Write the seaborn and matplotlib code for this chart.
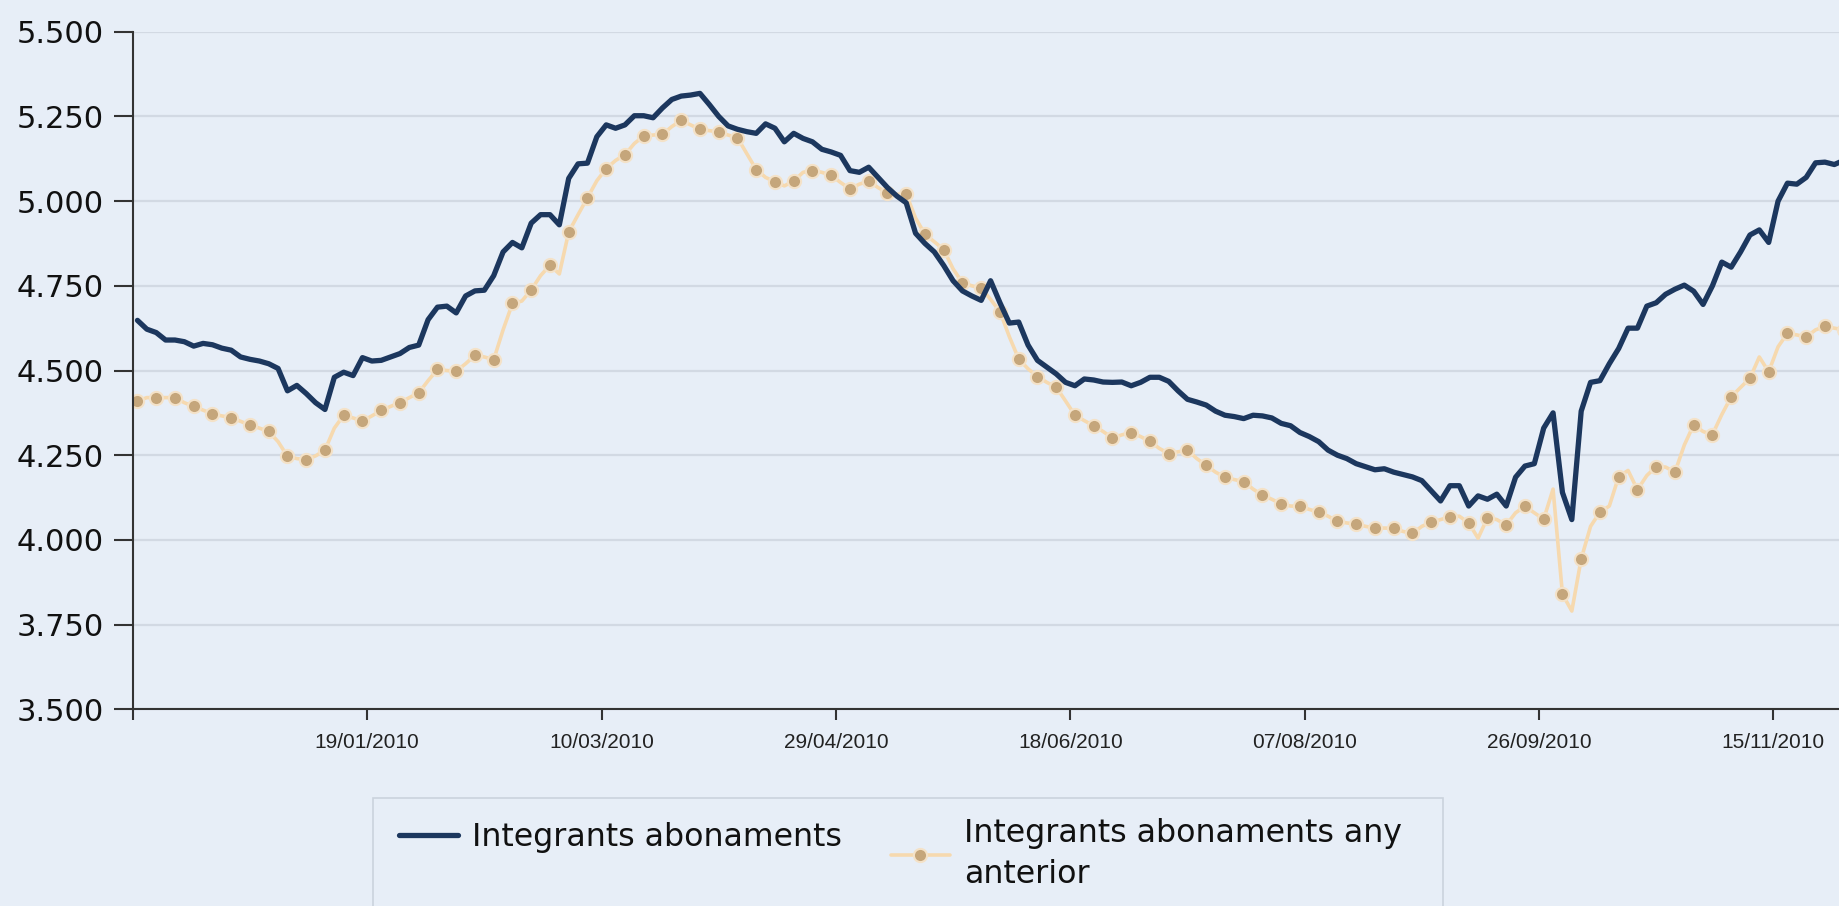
import numpy as np
import pandas as pd
import matplotlib
matplotlib.use('Agg')
import matplotlib.pyplot as plt
from matplotlib.patches import Rectangle
import seaborn as sns

# values read every 2 days, starting 01/12/2009 (in thousands)
abonaments = [
    4.648, 4.622, 4.612, 4.590, 4.590, 4.585, 4.572, 4.580, 4.576, 4.566,
    4.560, 4.540, 4.533, 4.528, 4.520, 4.506, 4.440, 4.456, 4.432, 4.405,
    4.385, 4.480, 4.495, 4.485, 4.538, 4.528, 4.530, 4.540, 4.550, 4.568,
    4.575, 4.650, 4.687, 4.690, 4.670, 4.720, 4.735, 4.737, 4.780, 4.850,
    4.878, 4.862, 4.935, 4.960, 4.960, 4.930, 5.067, 5.110, 5.112, 5.190,
    5.225, 5.215, 5.225, 5.252, 5.252, 5.246, 5.275, 5.300, 5.310, 5.313,
    5.318, 5.285, 5.250, 5.222, 5.212, 5.205, 5.200, 5.228, 5.215, 5.175,
    5.200, 5.185, 5.175, 5.153, 5.145, 5.135, 5.090, 5.085, 5.100, 5.070,
    5.040, 5.015, 4.995, 4.905, 4.875, 4.850, 4.810, 4.765, 4.735, 4.720,
    4.707, 4.765, 4.700, 4.640, 4.643, 4.575, 4.530, 4.510, 4.490, 4.465,
    4.455, 4.475, 4.472, 4.466, 4.465, 4.466, 4.455, 4.465, 4.480, 4.480,
    4.468, 4.440, 4.415, 4.407, 4.398, 4.380, 4.368, 4.364, 4.358, 4.368,
    4.366, 4.360, 4.344, 4.337, 4.317, 4.305, 4.290, 4.265, 4.250, 4.240,
    4.225, 4.216, 4.207, 4.210, 4.200, 4.193, 4.186, 4.175, 4.145, 4.115,
    4.160, 4.160, 4.100, 4.130, 4.120, 4.135, 4.100, 4.185, 4.218, 4.225,
    4.330, 4.375, 4.140, 4.060, 4.380, 4.465, 4.470, 4.520, 4.565, 4.625,
    4.625, 4.690, 4.700, 4.725, 4.740, 4.752, 4.734, 4.695, 4.750, 4.820,
    4.805, 4.850, 4.900, 4.915, 4.878, 5.000, 5.053, 5.050, 5.070, 5.113,
    5.115, 5.108, 5.120,
]

abonaments_anterior = [
    4.410, 4.420, 4.420, 4.420, 4.420, 4.405, 4.394, 4.383, 4.372, 4.366,
    4.361, 4.350, 4.339, 4.330, 4.320, 4.290, 4.247, 4.240, 4.237, 4.248,
    4.265, 4.330, 4.368, 4.360, 4.351, 4.366, 4.382, 4.394, 4.405, 4.420,
    4.434, 4.470, 4.503, 4.500, 4.498, 4.520, 4.545, 4.540, 4.532, 4.620,
    4.698, 4.705, 4.738, 4.780, 4.811, 4.785, 4.909, 4.960, 5.010, 5.060,
    5.096, 5.120, 5.137, 5.170, 5.192, 5.195, 5.197, 5.220, 5.238, 5.225,
    5.212, 5.208, 5.204, 5.195, 5.187, 5.140, 5.093, 5.070, 5.057, 5.045,
    5.059, 5.085, 5.090, 5.085, 5.076, 5.055, 5.036, 5.050, 5.059, 5.040,
    5.024, 5.020, 5.021, 4.950, 4.902, 4.880, 4.857, 4.800, 4.759, 4.750,
    4.743, 4.710, 4.674, 4.600, 4.534, 4.505, 4.482, 4.465, 4.451, 4.410,
    4.368, 4.352, 4.337, 4.320, 4.301, 4.310, 4.317, 4.305, 4.291, 4.270,
    4.255, 4.260, 4.265, 4.240, 4.220, 4.200, 4.185, 4.178, 4.172, 4.150,
    4.132, 4.120, 4.106, 4.100, 4.099, 4.090, 4.082, 4.070, 4.055, 4.050,
    4.047, 4.040, 4.035, 4.035, 4.034, 4.025, 4.019, 4.040, 4.052, 4.060,
    4.068, 4.070, 4.050, 4.005, 4.065, 4.060, 4.044, 4.080, 4.099, 4.080,
    4.061, 4.150, 3.840, 3.790, 3.944, 4.040, 4.082, 4.100, 4.187, 4.205,
    4.148, 4.190, 4.216, 4.215, 4.200, 4.280, 4.340, 4.320, 4.311, 4.370,
    4.422, 4.450, 4.477, 4.540, 4.496, 4.570, 4.610, 4.605, 4.599, 4.620,
    4.630, 4.625, 4.620,
]

labels = ['Integrants abonaments', 'Integrants abonaments any\nanterior']
y_ticks = [3.5, 3.75, 4.0, 4.25, 4.5, 4.75, 5.0, 5.25, 5.5]

dates = pd.date_range('2009-12-01', periods=len(abonaments), freq='2D')
tick_dates = pd.date_range('2009-11-30', periods=8, freq='50D')

W, H = 1839, 906
bg = '#E7EEF7'
navy = '#1C375E'
peach = '#F6D9AF'
tan = '#C5A67B'

sns.set_style('white', {'axes.facecolor': bg, 'figure.facecolor': bg})
plt.rcParams['font.family'] = ['DejaVu Sans']

fig = plt.figure(figsize=(W / 100, H / 100), dpi=100)
ax = fig.add_axes([0.0722, 0.2171, 0.9278, 0.7479])

for yv in y_ticks:
    ax.axhline(yv, color='#D2D9E3', lw=1.6, zorder=0)

sns.lineplot(x=dates, y=abonaments, ax=ax, color=navy, lw=3.8,
             solid_joinstyle='round', label=labels[0], zorder=3)
sns.lineplot(x=dates, y=abonaments_anterior, ax=ax, color=peach, lw=2.6,
             marker='o', markevery=2, markersize=9.5, markerfacecolor=tan,
             markeredgecolor='#F4E2C8', markeredgewidth=1.5,
             label=labels[1], zorder=2)

ax.set_ylim(3.5, 5.5)
ax.set_xlim(pd.Timestamp('2009-11-30'), pd.Timestamp('2010-11-29'))
ax.set_yticks(y_ticks)
ax.set_yticklabels([f'{v:.3f}' for v in y_ticks], fontsize=22)
ax.set_xticks(tick_dates)
ax.set_xticklabels([''] + [d.strftime('%d/%m/%Y') for d in tick_dates[1:]],
                   fontsize=15, family='Liberation Sans', color='#222222')
ax.tick_params(axis='y', left=True, length=14, width=1.5, pad=7,
               color='#333333', labelcolor='#111111')
ax.tick_params(axis='x', bottom=True, length=8, width=1.5, pad=9,
               color='#333333')
ax.set_xlabel('')
ax.set_ylabel('')

for side in ['top', 'right']:
    ax.spines[side].set_visible(False)
for side in ['left', 'bottom']:
    ax.spines[side].set_color('#333333')
    ax.spines[side].set_linewidth(1.5)

# legend: one frame, two entries placed side by side with their tops aligned
ax.get_legend().remove()
handles, labs = ax.get_legend_handles_labels()
fig.patches.append(Rectangle((373 / W, -0.05), (1442.6 - 373) / W,
                             1 - 797.5 / H + 0.05, transform=fig.transFigure,
                             facecolor=bg, edgecolor='#CBD3DD', lw=1.2,
                             zorder=0))
entry_pos = [(399, 822), (891, 818)]
for h, lab, (px, py) in zip(handles, labs, entry_pos):
    leg = fig.legend([h], [lab], loc='upper left',
                     bbox_to_anchor=(px / W, 1 - py / H),
                     bbox_transform=fig.transFigure, frameon=False,
                     fontsize=22.8, handlelength=1.85, handletextpad=0.45,
                     borderpad=0, borderaxespad=0)
    for t in leg.get_texts():
        t.set_color('#111111')
        t.set_linespacing(1.4)

fig.savefig('out.png', dpi=100, facecolor=bg)
